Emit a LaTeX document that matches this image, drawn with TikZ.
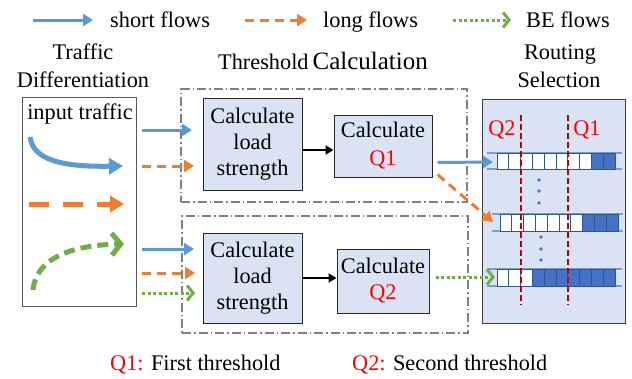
\documentclass[tikz,border=0pt]{standalone}
\usepackage{fontspec}
\setmainfont{Liberation Serif}
\usetikzlibrary{arrows.meta,calc}
\definecolor{sblue}{HTML}{5B9BD5}
\definecolor{sorange}{HTML}{ED7D31}
\definecolor{sgreen}{HTML}{70AD47}
\definecolor{boxfill}{HTML}{DAE3F3}
\definecolor{qfill}{HTML}{4472C4}
\definecolor{qline}{HTML}{7F9BCB}
\definecolor{qedge}{HTML}{2F5597}
\definecolor{qred}{HTML}{C00000}
\definecolor{tred}{HTML}{FF0000}
\begin{document}
\begin{tikzpicture}[x=1pt,y=-1pt,
  txt/.style={font=\fontsize{22.3}{26}\selectfont, inner sep=0pt, align=center},
  calcbox/.style={draw=black!85, line width=1pt, fill=boxfill, font=\fontsize{22.3}{26}\selectfont, align=center, inner sep=0pt},
  frame/.style={draw=black!50, line width=1.2pt, dash pattern=on 9pt off 3pt on 1.5pt off 3pt},
  shortf/.style={draw=sblue, line width=3pt, -{Triangle[length=10pt,width=12pt]}},
  longf/.style={draw=sorange, line width=3pt, dash pattern=on 9pt off 6pt, -{Triangle[length=10pt,width=12pt]}},
  bef/.style={draw=sgreen, line width=3pt, dash pattern=on 3pt off 2.5pt, -{Straight Barb[length=6pt,width=15pt]}},
  blk/.style={draw=black, line width=2.2pt, -{Triangle[length=8pt,width=9pt]}},
  cellw/.style={draw=qedge, line width=0.9pt, fill=white},
  cellb/.style={draw=qedge, line width=0.9pt, fill=qfill},
  qrail/.style={draw=qline, line width=1.6pt},
  thr/.style={draw=qred, line width=1.3pt, dash pattern=on 6pt off 3pt},
]
\useasboundingbox (0,0) rectangle (632,378);

% legend
\coordinate (l1a) at (33,20); \coordinate (l1b) at (93,20);
\draw[shortf] (l1a) -- (l1b);
\node[txt, anchor=base west] (l1t) at (110,27) {short flows};
\coordinate (l2a) at (245,20); \coordinate (l2b) at (307,20);
\draw[longf] (l2a) -- (l2b);
\node[txt, anchor=base west] (l2t) at (323,27) {long flows};
\coordinate (l3a) at (453,20); \coordinate (l3b) at (511,20);
\draw[bef] (l3a) -- (l3b);
\node[txt, anchor=base west] (l3t) at (526,27) {BE flows};

% titles
\node[txt, anchor=base] (t1a) at (83,59) {Traffic};
\node[txt, anchor=base] (t1b) at (83,87) {Differentiation};
\node[txt, anchor=base west] (t2) at (218,69) {Threshold\hspace{4pt}{\fontsize{25}{30}\selectfont Calculation}};
\node[txt, anchor=base] (t3a) at (560,59) {Routing};
\node[txt, anchor=base] (t3b) at (559,87) {Selection};

% input traffic box
\node[draw=black!65, line width=1pt, minimum width=114pt, minimum height=209pt, inner sep=0pt] (inbox) at (79,201.5) {};
\node[txt, anchor=base] (intxt) at (80,119) {input traffic};
\coordinate (ia1) at (30,137); \coordinate (ia2) at (123,166);
\draw[draw=sblue, line width=5pt, -{Triangle[length=14pt,width=16pt]}] (ia1) .. controls (33,160) and (62,167) .. (ia2);
\coordinate (ib1) at (29,204); \coordinate (ib2) at (124,204);
\draw[draw=sorange, line width=5pt, dash pattern=on 20pt off 14pt, -{Triangle[length=14pt,width=16pt]}] (ib1) -- (ib2);
\coordinate (ic1) at (33,290); \coordinate (ic2) at (124,244);
\draw[draw=sgreen, line width=5pt, dash pattern=on 11pt off 6pt, -{Straight Barb[length=9pt,width=22pt]}] (ic1) .. controls (36,258) and (72,245) .. (ic2);

% frames
\node[frame, minimum width=286pt, minimum height=113pt, inner sep=0pt] (frameA) at (324,145.5) {};
\node[frame, minimum width=286pt, minimum height=117pt, inner sep=0pt] (frameB) at (325,274.5) {};

% calculation boxes
\node[calcbox, minimum width=99pt, minimum height=92pt] (loadA) at (252.5,144) {Calculate\\load\\strength};
\node[calcbox, minimum width=98pt, minimum height=62pt] (q1) at (383,146) {Calculate\\[2pt]\textcolor{tred}{Q1}};
\node[calcbox, minimum width=92pt, minimum height=64pt] (q2) at (383,281) {Calculate\\\textcolor{tred}{Q2}};
\node[calcbox, minimum width=99pt, minimum height=90pt] (loadB) at (252.5,278) {Calculate\\load\\strength};

\draw[blk] ($(loadA.east)+(0,6)$) -- ($(loadA.east -| q1.west)+(0,6)$);
\draw[blk] (loadB.east) -- (loadB.east -| q2.west);

% connectors from input traffic to frames
\coordinate (c1s) at (142,130); \coordinate (c1e) at (192,130);
\coordinate (c2s) at (142,166); \coordinate (c2e) at (194,166);
\coordinate (c3s) at (142,249); \coordinate (c3e) at (194,249);
\coordinate (c4s) at (142,273); \coordinate (c4e) at (195,273);
\coordinate (c5s) at (142,293); \coordinate (c5e) at (195,293);
\draw[shortf] (c1s) -- (c1e);
\draw[longf] (c2s) -- (c2e);
\draw[shortf] (c3s) -- (c3e);
\draw[longf] (c4s) -- (c4e);
\draw[bef] (c5s) -- (c5e);

% routing selection box
\node[draw=black!75, line width=1pt, fill=boxfill, minimum width=143pt, minimum height=224pt, inner sep=0pt] (rbox) at (553.5,211) {};

% queues
\draw[qrail] (487,153) -- (622,153);
\draw[qrail] (487,169) -- (622,169);
\foreach \i in {0,...,7} {\pgfmathsetmacro\xx{497+\i*11.8}\draw[cellw] (\xx,153) rectangle ++(11.8,16);}
\foreach \i in {8,9} {\pgfmathsetmacro\xx{497+\i*11.8}\draw[cellb] (\xx,153) rectangle ++(11.8,16);}

\draw[qrail] (492,214) -- (623,214);
\draw[qrail] (492,231) -- (623,231);
\foreach \i in {0,...,6} {\pgfmathsetmacro\xx{500+\i*11.8}\draw[cellw] (\xx,214) rectangle ++(11.8,17);}
\foreach \i in {7,8,9} {\pgfmathsetmacro\xx{500+\i*11.8}\draw[cellb] (\xx,214) rectangle ++(11.8,17);}

\draw[qrail] (487,269) -- (622,269);
\draw[qrail] (487,286) -- (622,286);
\foreach \i in {0,1,2} {\pgfmathsetmacro\xx{497+\i*11.8}\draw[cellw] (\xx,269) rectangle ++(11.8,17);}
\foreach \i in {3,...,9} {\pgfmathsetmacro\xx{497+\i*11.8}\draw[cellb] (\xx,269) rectangle ++(11.8,17);}

\coordinate (qa) at (493,162);
\coordinate (qb) at (493,222);
\coordinate (qc) at (495,277);

% dots
\foreach \y in {180,191,203} {\fill[qfill] (539,\y) circle (1.8pt);}
\foreach \y in {237,249,260} {\fill[qfill] (541,\y) circle (1.8pt);}

% thresholds
\coordinate (r2a) at (521,115); \coordinate (r2b) at (521,305);
\coordinate (r1a) at (568,115); \coordinate (r1b) at (568,305);
\draw[thr] (r2a) -- (r2b);
\draw[thr] (r1a) -- (r1b);
\node[txt, text=tred] (lq2) at (502,130) {Q2};
\node[txt, text=tred] (lq1) at (587,130) {Q1};

% outputs of threshold calculation
\draw[shortf] ($(q1.south east)+(5,-15)$) -- (qa);
\draw[longf] ($(q1.south east)+(5,-3)$) -- (qb);
\draw[bef] ($(q2.east)+(6,-4)$) -- (qc);

% bottom legend
\node[txt, anchor=base west] (k1) at (110,370) {\textcolor{tred}{Q1:} First threshold};
\node[txt, anchor=base west] (k2) at (352,370) {\textcolor{tred}{Q2:} Second threshold};
\end{tikzpicture}
\end{document}
